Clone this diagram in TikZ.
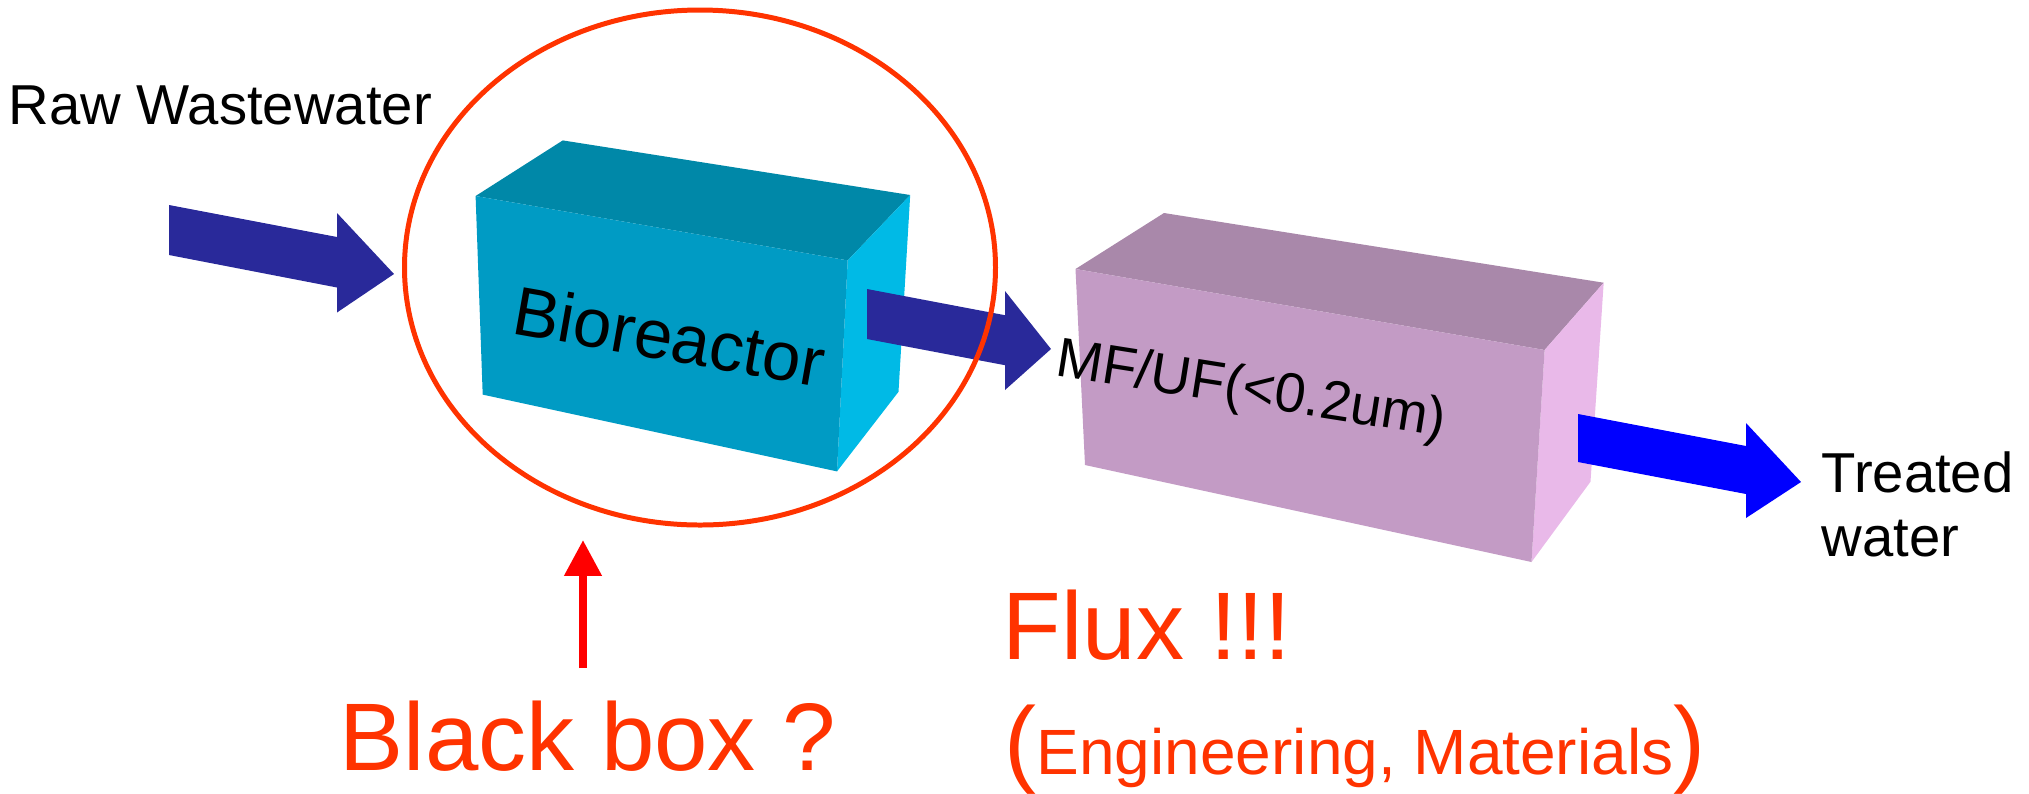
\documentclass[tikz,border=0pt]{standalone}
\usepackage{fontspec}
\setmainfont{Liberation Sans}
\usetikzlibrary{arrows.meta}
\definecolor{flowblue}{HTML}{29299A}
\definecolor{outblue}{HTML}{0000FF}
\definecolor{bioFront}{HTML}{009BC4}
\definecolor{bioTop}{HTML}{0088A8}
\definecolor{bioSide}{HTML}{00BAE6}
\definecolor{memFront}{HTML}{C39BC5}
\definecolor{memTop}{HTML}{A988AA}
\definecolor{memSide}{HTML}{E9B9E9}
\definecolor{alertred}{HTML}{FF3300}
\begin{document}
\begin{tikzpicture}[x=0.01cm, y=-0.01cm,
  label/.style={font=\fontsize{16}{18.2}\selectfont, inner sep=0, align=left},
  boxtext/.style={inner sep=0},
  alert/.style={text=alertred, inner sep=0, font=\fontsize{27.3}{32}\selectfont}]
 \useasboundingbox (0,0) rectangle (2029,793);
 % bioreactor block
 \fill[bioTop] (475.6,196) -- (562.8,140.4) -- (910.2,195) -- (847.7,260.4) -- cycle;
 \fill[bioSide] (847.7,260.4) -- (910.2,195) -- (898.5,391.8) -- (837,471.4) -- cycle;
 \fill[bioFront] (475.6,196) -- (847.7,260.4) -- (837,471.4) -- (482.7,394.6) -- cycle;
 % membrane block
 \fill[memTop] (1075.5,269) -- (1164,213) -- (1603.7,282.7) -- (1544.6,350) -- cycle;
 \fill[memSide] (1544.6,350) -- (1603.7,282.7) -- (1590.5,481.7) -- (1531.5,562) -- cycle;
 \fill[memFront] (1075.5,269) -- (1544.6,350) -- (1531.5,562) -- (1085,465) -- cycle;
 % flow arrows
 \fill[flowblue] (169,205) -- (337,237) -- (337,213) -- (394,274) -- (337,312.5) -- (337,287.5) -- (169,255) -- cycle;
 \fill[flowblue] (867,289) -- (1005,315.2) -- (1005,291) -- (1051,349) -- (1005,390) -- (1005,365.2) -- (867,339) -- cycle;
 \fill[outblue] (1578,414) -- (1746,446) -- (1746,423) -- (1801,482) -- (1746,518) -- (1746,494) -- (1578,462) -- cycle;
 % texts
 \node[label, anchor=base west] (raw) at (8,124) {Raw Wastewater};
 \node[label, anchor=base west] (treated) at (1821,556) {Treated\\water};
 \node[boxtext, rotate=-10, font=\fontsize{19.6}{22}\selectfont] (bio) at (669.5,336) {Bioreactor};
 \node[boxtext, rotate=-9, font=\fontsize{15.8}{18}\selectfont] (mfuf) at (1251,392) {MF/UF(<0.2um)};
 % black box marker
 \draw[alertred, line width=1.42pt] (700,267.5) ellipse [x radius=295.5, y radius=257.5];
 \coordinate (pointer tail) at (583,668);
 \coordinate (pointer tip) at (583,540);
 \draw[red, line width=2.2pt, -{Triangle[length=10.2pt,width=10.2pt]}] (pointer tail) -- (pointer tip);
 \node[alert, anchor=base west] (blackbox) at (339,770) {Black box ?};
 \node[alert, anchor=base west] (flux) at (1002,659) {Flux !!!};
 \node[alert, anchor=base west] (fields) at (1004,774) {(\fontsize{18.2}{22}\selectfont Engineering, Materials\fontsize{27.3}{32}\selectfont)};
\end{tikzpicture}
\end{document}
